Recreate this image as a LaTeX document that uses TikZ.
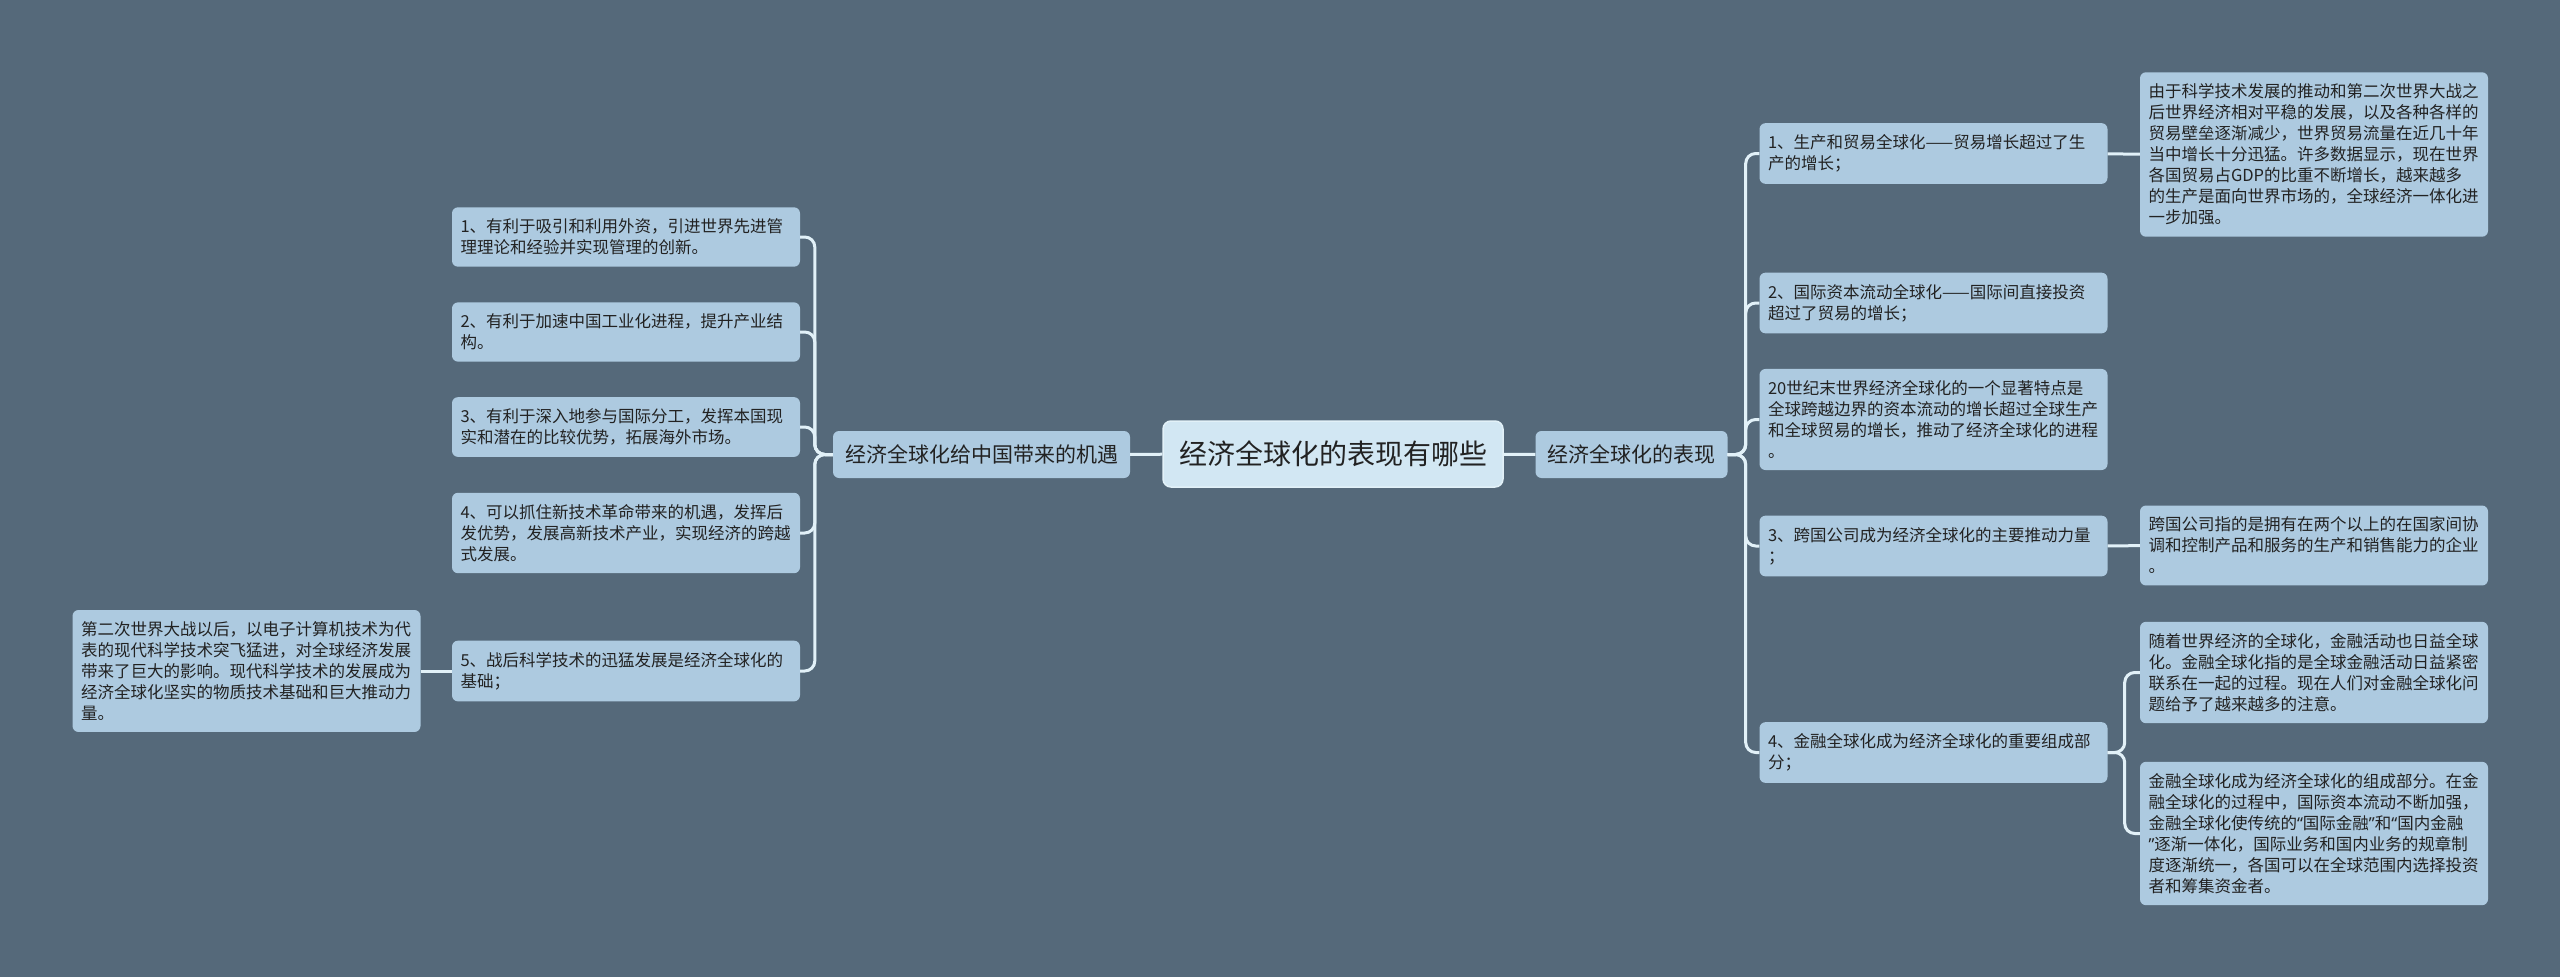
\documentclass[tikz,border=0pt]{standalone}
\usepackage{fontspec}
\setmainfont{Noto Sans CJK SC}
\newfontfamily\quotefont{Noto Sans}
\usetikzlibrary{positioning}
\definecolor{bg}{HTML}{55697A}
\definecolor{leaffill}{HTML}{ADCAE0}
\definecolor{rootfill}{HTML}{D2E7F3}
\definecolor{linkcol}{HTML}{E2F1F8}
\definecolor{ink}{HTML}{222222}
\newcommand{\qopen}{{\quotefont “}}
\newcommand{\qclose}{{\quotefont ”}}
\tikzset{
  leaf/.style={
    fill = leaffill,
    rounded corners = 6pt,
    text width = 331pt,
    align = left,
    inner xsep = 8.5pt,
    inner ysep = 11.5pt,
    text = ink,
    font = \fontsize{16.5}{21}\selectfont
  },
  branch/.style={
    fill = leaffill,
    rounded corners = 6pt,
    minimum height = 47pt,
    inner xsep = 12pt,
    text = ink,
    font = \fontsize{21}{25}\selectfont
  },
  root/.style={
    fill = rootfill,
    draw = linkcol,
    line width = 1.5pt,
    rounded corners = 8pt,
    minimum height = 66pt,
    inner xsep = 16pt,
    text = ink,
    font = \fontsize{28}{32}\selectfont
  },
}
\tikzset{
  link/.style={
    draw = linkcol,
    line width = 3pt,
    rounded corners = 10pt
  },
}
\begin{document}
\begin{tikzpicture}[x=1pt,y=-1pt]
  \useasboundingbox[fill=bg] (0,0) rectangle (2560,977);
  \node[root] (root) at (1333,454) {经济全球化的表现有哪些};
  \node[branch] (lb) at (981.5,454.5) {经济全球化给中国带来的机遇};
  \node[branch] (rb) at (1631.5,454.5) {经济全球化的表现};
  % opportunities
  \node[leaf] (l1) at (626,237) {1、有利于吸引和利用外资，引进世界先进管\\理理论和经验并实现管理的创新。};
  \node[leaf] (l2) at (626,332) {2、有利于加速中国工业化进程，提升产业结\\构。};
  \node[leaf] (l3) at (626,427) {3、有利于深入地参与国际分工，发挥本国现\\实和潜在的比较优势，拓展海外市场。};
  \node[leaf] (l4) at (626,533) {4、可以抓住新技术革命带来的机遇，发挥后\\发优势，发展高新技术产业，实现经济的跨越\\式发展。};
  \node[leaf] (l5) at (626,671) {5、战后科学技术的迅猛发展是经济全球化的\\基础；};
  \node[leaf] (ll) at (246.5,671) {第二次世界大战以后，以电子计算机技术为代\\表的现代科学技术突飞猛进，对全球经济发展\\带来了巨大的影响。现代科学技术的发展成为\\经济全球化坚实的物质技术基础和巨大推动力\\量。};
  % forms
  \node[leaf] (r1) at (1933.5,153.5) {1、生产和贸易全球化——贸易增长超过了生\\产的增长；};
  \node[leaf] (r2) at (1933.5,303) {2、国际资本流动全球化——国际间直接投资\\超过了贸易的增长；};
  \node[leaf] (r3) at (1933.5,419.5) {20世纪末世界经济全球化的一个显著特点是\\全球跨越边界的资本流动的增长超过全球生产\\和全球贸易的增长，推动了经济全球化的进程\\。};
  \node[leaf] (r4) at (1933.5,546) {3、跨国公司成为经济全球化的主要推动力量\\；};
  \node[leaf] (r5) at (1933.5,752.5) {4、金融全球化成为经济全球化的重要组成部\\分；};
  \node[leaf] (f1) at (2314,154.5) {由于科学技术发展的推动和第二次世界大战之\\后世界经济相对平稳的发展，以及各种各样的\\贸易壁垒逐渐减少，世界贸易流量在近几十年\\当中增长十分迅猛。许多数据显示，现在世界\\各国贸易占GDP的比重不断增长，越来越多\\的生产是面向世界市场的，全球经济一体化进\\一步加强。};
  \node[leaf] (f3) at (2314,545.5) {跨国公司指的是拥有在两个以上的在国家间协\\调和控制产品和服务的生产和销售能力的企业\\。};
  \node[leaf] (f4a) at (2314,672.5) {随着世界经济的全球化，金融活动也日益全球\\化。金融全球化指的是全球金融活动日益紧密\\联系在一起的过程。现在人们对金融全球化问\\题给予了越来越多的注意。};
  \node[leaf] (f4b) at (2314,833.5) {金融全球化成为经济全球化的组成部分。在金\\融全球化的过程中，国际资本流动不断加强，\\金融全球化使传统的\qopen 国际金融\qclose 和\qopen 国内金融\\\qclose 逐渐一体化，国际业务和国内业务的规章制\\度逐渐统一，各国可以在全球范围内选择投资\\者和筹集资金者。};
  % links
  \draw[link] (root) -- (lb);
  \draw[link] (root) -- (rb);
  \foreach \n in {l1,l2,l3,l4,l5}
    \draw[link] (lb.west) -- ++(-18,0) |- (\n.east);
  \foreach \n in {r1,r2,r3,r4,r5}
    \draw[link] (rb.east) -- ++(18,0) |- (\n.west);
  \foreach \n in {f4a,f4b}
    \draw[link] (r5.east) -- ++(17,0) |- (\n.west);
  \draw[link] (l5) -- (ll);
  \draw[link] (r1) -- (f1);
  \draw[link] (r4) -- (f3);
\end{tikzpicture}
\end{document}
